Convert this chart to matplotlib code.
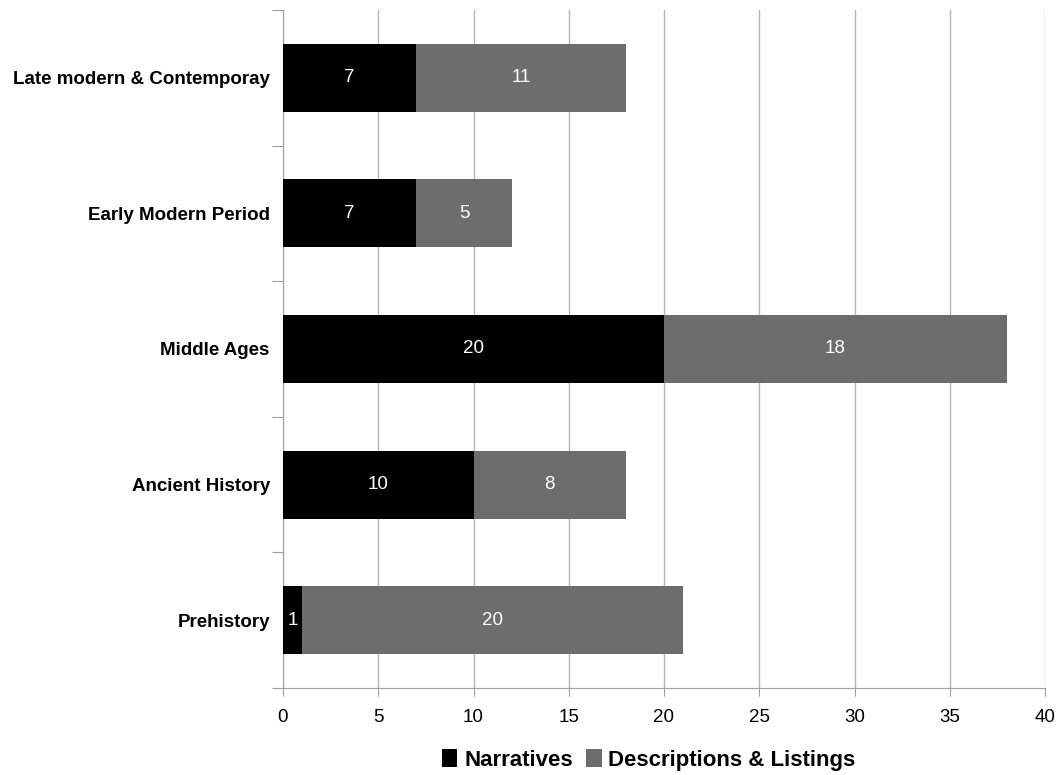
import matplotlib
matplotlib.use("Agg")
import matplotlib.pyplot as plt
import numpy as np

categories = ["Prehistory", "Ancient History", "Middle Ages", "Early Modern Period", "Late modern & Contemporay"]
narratives = [1, 10, 20, 7, 7]
descriptions = [20, 8, 18, 5, 11]
series_names = ["Narratives", "Descriptions & Listings"]
colors = ["#000000", "#6d6d6d"]

plt.rcParams['font.family'] = ['Liberation Sans', 'DejaVu Sans']

fig = plt.figure(figsize=(10.64, 7.75), dpi=100)
ax = fig.add_axes([283/1064, 1-688/775, (1045-283)/1064, (688-10)/775])

y = np.arange(len(categories))
h = 0.5
b1 = ax.barh(y, narratives, height=h, color=colors[0], label=series_names[0], zorder=3)
b2 = ax.barh(y, descriptions, left=narratives, height=h, color=colors[1], label=series_names[1], zorder=3)

for bars, vals, lefts in [(b1, narratives, [0]*len(narratives)), (b2, descriptions, narratives)]:
    for yi, v, l in zip(y, vals, lefts):
        ax.text(l + v/2, yi, str(v), ha='center', va='center', color='white', fontsize=13.5, zorder=4)

ax.set_xlim(0, 40)
ax.set_ylim(-0.5, len(categories) - 0.5)
ax.set_xticks(np.arange(0, 41, 5))
ax.tick_params(axis='x', length=6, color='#a0a0a0', labelsize=13.5, pad=9)
ax.set_yticks(np.arange(-0.5, len(categories), 1.0))
ax.set_yticklabels([])
ax.set_yticks(y, minor=True)
ax.set_yticklabels(categories, minor=True, fontweight='bold', fontsize=13.5)
ax.tick_params(axis='y', which='major', length=8, color='#a0a0a0')
ax.tick_params(axis='y', which='minor', length=0, pad=9.5)
ax.xaxis.grid(True, color='#b4b4b4', linewidth=1, zorder=0)
for s in ['top', 'right']:
    ax.spines[s].set_visible(False)
for s in ['left', 'bottom']:
    ax.spines[s].set_color('#a0a0a0')

ax.legend(loc='center', bbox_to_anchor=(0.48, -0.106), ncol=2, frameon=False,
          handlelength=0.7, handleheight=0.9, handletextpad=0.3, columnspacing=0.6,
          prop={'weight': 'bold', 'size': 16})

fig.savefig("out.png", dpi=100)
